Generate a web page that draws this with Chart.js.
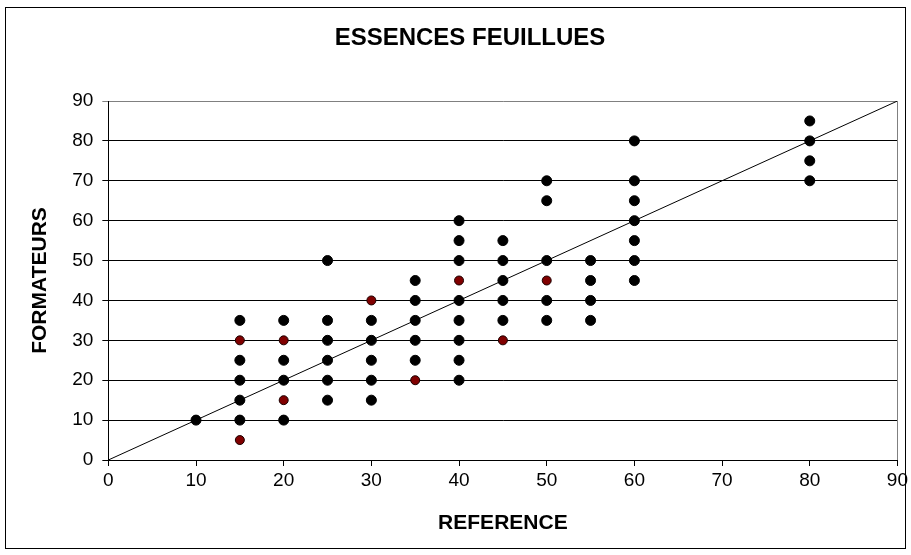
<!DOCTYPE html>
<html>
<head>
<meta charset="utf-8">
<script src="https://cdn.jsdelivr.net/npm/chart.js@4"></script>
<style>
  body { margin: 0; background: #fff; }
</style>
</head>
<body>
<canvas id="feuillusChart" width="911" height="555"></canvas>
<script>
var chartTitle = "ESSENCES FEUILLUES";

// black points: reference value / trainers' value
var refBlack = [10,
  15, 15, 15, 15, 15,
  20, 20, 20, 20,
  25, 25, 25, 25, 25, 25,
  30, 30, 30, 30, 30,
  35, 35, 35, 35, 35,
  40, 40, 40, 40, 40, 40, 40, 40,
  45, 45, 45, 45, 45,
  50, 50, 50, 50, 50,
  55, 55, 55, 55,
  60, 60, 60, 60, 60, 60, 60,
  80, 80, 80, 80];
var formBlack = [10,
  35, 25, 20, 15, 10,
  35, 25, 20, 10,
  50, 35, 30, 25, 20, 15,
  35, 30, 25, 20, 15,
  45, 40, 35, 30, 25,
  60, 55, 50, 40, 35, 30, 25, 20,
  55, 50, 45, 40, 35,
  70, 65, 50, 40, 35,
  50, 45, 40, 35,
  80, 70, 65, 60, 55, 50, 45,
  85, 80, 75, 70];

// dark red points
var refRed = [15, 15, 20, 20, 30, 35, 40, 45, 50];
var formRed = [30, 5, 30, 15, 40, 20, 45, 30, 45];

// y = x reference line
var lineRef = [0, 90];

var axisMin = 0;
var axisMax = 90;
var axisStep = 10;

function toPoints(xs, ys) {
  var pts = [];
  for (var i = 0; i < xs.length; i++) {
    pts.push({ x: xs[i], y: ys[i] });
  }
  return pts;
}

var canvas = document.getElementById("feuillusChart");
var ctx = canvas.getContext("2d");
var fontName = "'Liberation Sans', Arial, sans-serif";

var framePlugin = {
  id: "frame",
  beforeDraw: function (chart) {
    var c = chart.ctx;
    c.save();
    c.fillStyle = "#ffffff";
    c.fillRect(0, 0, chart.width, chart.height);
    c.restore();
  },
  afterDraw: function (chart) {
    var c = chart.ctx;
    var area = chart.chartArea;
    c.save();
    // plot area right edge (grey)
    c.strokeStyle = "#808080";
    c.lineWidth = 1;
    c.beginPath();
    c.moveTo(Math.round(area.right) + 0.5, area.top);
    c.lineTo(Math.round(area.right) + 0.5, area.bottom);
    c.stroke();
    // outer chart border
    c.strokeStyle = "#000000";
    c.strokeRect(5.5, 7.5, 900, 541);
    // title, a little right of the canvas centre as in the original
    c.fillStyle = "#000000";
    c.font = "bold 24px " + fontName;
    c.textAlign = "center";
    c.textBaseline = "middle";
    c.fillText(chartTitle, 470, 38);
    c.restore();
  },
};

Chart.register(framePlugin);

var feuillusChart = new Chart(ctx, {
  type: "scatter",
  data: {
    datasets: [
      {
        label: "ligne",
        type: "line",
        data: toPoints(lineRef, lineRef),
        borderColor: "#000000",
        borderWidth: 1,
        pointRadius: 0,
        fill: false,
        order: 3,
      },
      {
        label: "noir",
        data: toPoints(refBlack, formBlack),
        backgroundColor: "#000000",
        borderColor: "#000000",
        borderWidth: 1,
        pointRadius: 5,
        pointHoverRadius: 5,
        order: 2,
      },
      {
        label: "rouge",
        data: toPoints(refRed, formRed),
        backgroundColor: "#800000",
        borderColor: "#1a0000",
        borderWidth: 1,
        pointRadius: 4.5,
        pointHoverRadius: 4.5,
        order: 1,
      },
    ],
  },
  options: {
    responsive: false,
    animation: false,
    layout: {
      padding: { top: 101, left: 0, right: 12, bottom: 19 },
    },
    plugins: {
      legend: { display: false },
      tooltip: { enabled: false },
      title: { display: false },
    },
    scales: {
      x: {
        type: "linear",
        min: axisMin,
        max: axisMax,
        ticks: {
          stepSize: axisStep,
          color: "#000000",
          padding: 3,
          font: { family: fontName, size: 19 },
        },
        grid: {
          drawOnChartArea: false,
          drawTicks: true,
          tickLength: 6,
          color: "#000000",
        },
        border: { display: true, color: "#000000", width: 1 },
        title: {
          display: true,
          text: "REFERENCE",
          color: "#000000",
          font: { family: fontName, size: 21, weight: "bold" },
          padding: { top: 16, bottom: 0 },
        },
      },
      y: {
        type: "linear",
        min: axisMin,
        max: axisMax,
        ticks: {
          stepSize: axisStep,
          color: "#000000",
          padding: 9,
          font: { family: fontName, size: 19 },
        },
        grid: {
          drawOnChartArea: true,
          drawTicks: true,
          tickLength: 6,
          color: function (context) {
            if (context.tick && context.tick.value === axisMax) {
              return "#808080";
            }
            return "#000000";
          },
        },
        border: { display: true, color: "#000000", width: 1 },
        title: {
          display: true,
          text: "FORMATEURS",
          color: "#000000",
          font: { family: fontName, size: 21, weight: "bold" },
          padding: { top: 28, bottom: 10 },
        },
      },
    },
  },
});
</script>
</body>
</html>
